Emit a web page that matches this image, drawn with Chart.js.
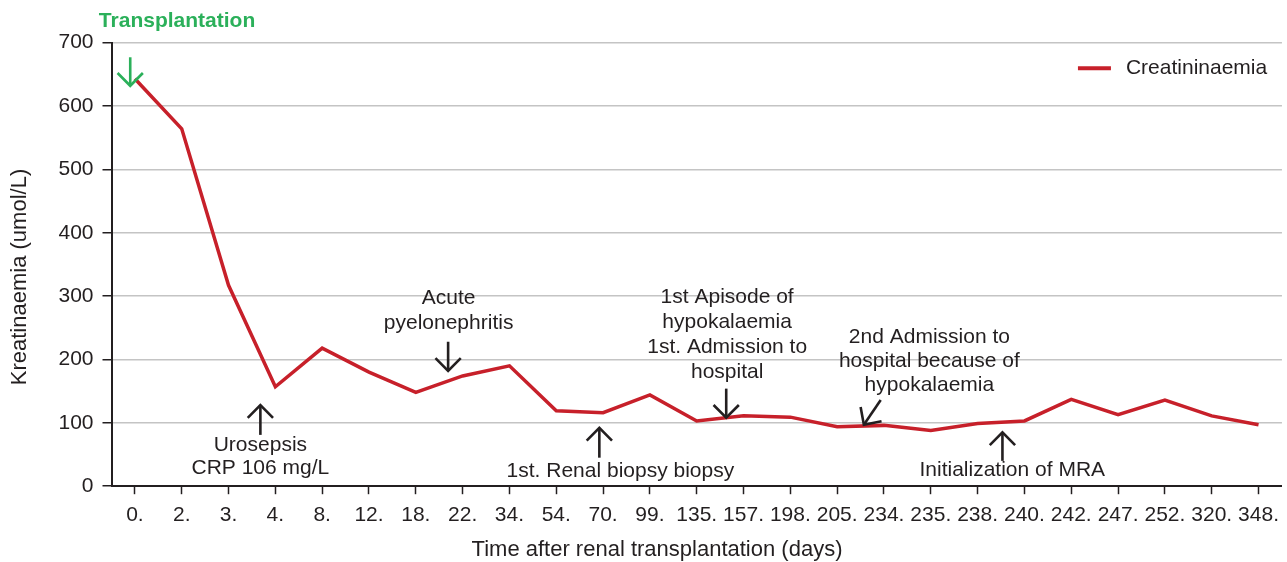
<!DOCTYPE html>
<html><head><meta charset="utf-8">
<script src="https://cdn.jsdelivr.net/npm/chart.js@4"></script>
<style>html,body{margin:0;padding:0;background:#fff}#wrap{width:1287px;height:562px}</style>
</head><body><div id="wrap"><canvas id="c" width="1287" height="562"></canvas></div>
<script>
const categories = ["0.","2.","3.","4.","8.","12.","18.","22.","34.","54.","70.","99.","135.","157.","198.","205.","234.","235.","238.","240.","242.","247.","252.","320.","348."];
const creatinine = [643,564,317,157,218,180,148,174,190,119,116,144,103,111,109,94,96,88,99,103,137,113,136,111,97];
const yTicks = [0,100,200,300,400,500,600,700];
const seriesLabel = "Creatininaemia";
const yTitle = "Kreatinaemia (umol/L)";
const xTitle = "Time after renal transplantation (days)";
// annotations in data coordinates: [category index, value]
const annotations = [
  {text:["Transplantation"], at:[0.9,734], color:"#2bb05a", bold:true, arrow:[[-0.1,677],[-0.1,632]]},
  {text:["Acute","pyelonephritis"], at:[6.7,297], lineStep:39.5, arrow:[[6.69,228],[6.69,182]]},
  {text:["Urosepsis","CRP 106 mg/L"], at:[2.68,65], lineStep:37, arrow:[[2.68,81],[2.68,128]]},
  {text:["1st. Renal biopsy biopsy"], at:[10.37,24], arrow:[[9.92,45],[9.92,92]]},
  {text:["1st Apisode of","hypokalaemia","1st. Admission to","hospital"], at:[12.65,298], lineStep:39.5, arrow:[[12.63,154],[12.63,108]]},
  {text:["2nd Admission to","hospital because of","hypokalaemia"], at:[16.97,235], lineStep:38, arrow:[[15.93,136],[15.57,97]]},
  {text:["Initialization of MRA"], at:[18.74,25], arrow:[[18.53,40],[18.53,85]]}
];
const FONT = "'Liberation Sans', Arial, sans-serif";
const RED = "#c7202a";
const INK = "#231f20";

function arrow(ctx, x1, y1, x2, y2, color){
  const a = Math.atan2(y2-y1, x2-x1), h = 18, w = 0.78;
  ctx.save(); ctx.strokeStyle = color; ctx.lineWidth = 2.6; ctx.lineCap = "butt"; ctx.lineJoin = "miter";
  ctx.beginPath(); ctx.moveTo(x1,y1); ctx.lineTo(x2,y2); ctx.stroke();
  ctx.beginPath();
  ctx.moveTo(x2 - h*Math.cos(a-w), y2 - h*Math.sin(a-w));
  ctx.lineTo(x2, y2);
  ctx.lineTo(x2 - h*Math.cos(a+w), y2 - h*Math.sin(a+w));
  ctx.stroke(); ctx.restore();
}

const annotPlugin = {
  id:"annot",
  afterDraw(chart){
    const ctx = chart.ctx, xs = chart.scales.x, ys = chart.scales.y;
    ctx.save();
    annotations.forEach(an => {
      const color = an.color || INK;
      const [p, q] = an.arrow;
      arrow(ctx, xs.getPixelForValue(p[0]), ys.getPixelForValue(p[1]), xs.getPixelForValue(q[0]), ys.getPixelForValue(q[1]), color);
      ctx.fillStyle = color;
      ctx.font = (an.bold ? "bold " : "") + "21px " + FONT;
      ctx.textAlign = "center"; ctx.textBaseline = "middle";
      const cx = xs.getPixelForValue(an.at[0]);
      an.text.forEach((t, k) => {
        const yv = an.at[1] - k * (an.lineStep || 0);
        ctx.fillText(t, cx, ys.getPixelForValue(yv));
      });
    });
    // axis titles
    ctx.fillStyle = INK; ctx.font = "22px " + FONT; ctx.textAlign = "center"; ctx.textBaseline = "middle";
    ctx.fillText(xTitle, 657, 550);
    ctx.save(); ctx.translate(20, 277); ctx.rotate(-Math.PI/2); ctx.fillText(yTitle, 0, 0); ctx.restore();
    // legend
    const ds = chart.data.datasets[0];
    const lx = chart.chartArea.right - 204, ly = chart.chartArea.top + 25.5;
    ctx.strokeStyle = ds.borderColor; ctx.lineWidth = 4;
    ctx.beginPath(); ctx.moveTo(lx, ly); ctx.lineTo(lx+33, ly); ctx.stroke();
    ctx.fillStyle = INK; ctx.font = "21px " + FONT; ctx.textAlign = "left"; ctx.textBaseline = "middle";
    ctx.fillText(ds.label, lx + 48, ly);
    ctx.restore();
  }
};

new Chart(document.getElementById("c"), {
  type:"line",
  data:{ labels:categories, datasets:[{ label:seriesLabel, data:creatinine, borderColor:RED, backgroundColor:RED, borderWidth:3.5, pointRadius:0, tension:0, fill:false }]},
  options:{
    responsive:false, animation:false,
    layout:{ padding:{ top:42.7, right:1.5, left:0, bottom:0 } },
    plugins:{ legend:{display:false}, tooltip:{enabled:false} },
    scales:{
      x:{
        type:"category", offset:true,
        grid:{ display:true, drawOnChartArea:false, offset:false, tickLength:8, tickColor:INK, tickWidth:1.5 },
        border:{ display:true, color:INK, width:2 },
        ticks:{ color:INK, font:{ family:FONT, size:21 }, padding:8, maxRotation:0, autoSkip:false },
        title:{ display:false },
        afterFit(s){ s.height = 75.8; }
      },
      y:{
        min:0, max:700,
        afterBuildTicks(s){ s.ticks = yTicks.map(v => ({value:v})); },
        grid:{ color:"#c4c4c4", lineWidth:1.5, tickLength:9, tickColor:INK, tickWidth:1.5 },
        border:{ display:true, color:INK, width:2 },
        ticks:{ color:INK, font:{ family:FONT, size:21 }, padding:9 },
        title:{ display:false },
        afterFit(s){ s.width = 111.5; }
      }
    }
  },
  plugins:[annotPlugin]
});
</script></body></html>
